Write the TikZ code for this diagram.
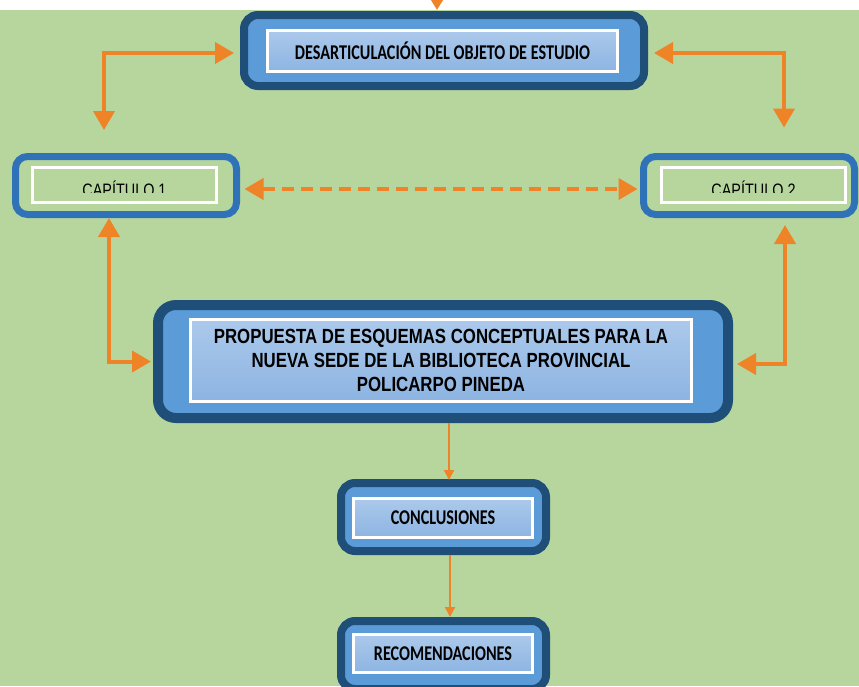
\documentclass[tikz,border=0pt]{standalone}
\usepackage{fontspec}
\setmainfont{Liberation Sans}
\newfontfamily\calib[FakeStretch=0.77]{Carlito}
\newfontfamily\arialn[FakeStretch=0.8]{Liberation Sans}
\newfontfamily\arialm[FakeStretch=0.82]{Liberation Sans}
\usetikzlibrary{arrows.meta}
\definecolor{bggreen}{HTML}{B6D69E}
\definecolor{navy}{HTML}{1F4E79}
\definecolor{midblue}{HTML}{5B9BD8}
\definecolor{ltA}{HTML}{ABC9EB}
\definecolor{ltB}{HTML}{8DB4E2}
\definecolor{capblue}{HTML}{2F72B8}
\definecolor{oran}{HTML}{EE8427}
\tikzset{
  outerbox/.style={draw=navy, line width=8pt, fill=midblue, rounded corners=14pt, inner sep=0pt, outer sep=0pt},
  innerbox/.style={draw=white, line width=3pt, top color=ltA, bottom color=ltB, inner sep=0pt, outer sep=0pt, align=center, text=black},
  capouter/.style={draw=capblue, line width=7pt, fill=bggreen, rounded corners=12pt, inner sep=0pt, outer sep=0pt},
  capinner/.style={draw=white, line width=3pt, fill=bggreen, inner sep=0pt, outer sep=0pt},
  oarr/.style={draw=oran, line width=4pt, {Triangle[length=19pt,width=21pt]}-{Triangle[length=19pt,width=21pt]}},
  thinarr/.style={draw=oran, line width=2pt, -{Triangle[length=10pt,width=10pt]}},
  toptext/.style={font=\calib\bfseries\fontsize{21}{24}\selectfont},
  captext/.style={font=\arialn\fontsize{18}{20}\selectfont, inner sep=0pt, anchor=base}
}
\begin{document}
\begin{tikzpicture}[x=1pt,y=-1pt]
\useasboundingbox (0,0) rectangle (859,686);
\fill[bggreen] (0,0) rectangle (859,686);
\fill[white] (0,0) rectangle (859,10);

% top box
\node[outerbox, minimum width=400pt, minimum height=71pt] (topo) at (444,50.5) {};
\node[innerbox, minimum width=350pt, minimum height=41pt, toptext] (topi) at (442.5,51) {DESARTICULACIÓN DEL OBJETO DE ESTUDIO};

% capitulo boxes
\node[capouter, minimum width=221pt, minimum height=58pt] (cap1o) at (126,185.5) {};
\node[capinner, minimum width=184pt, minimum height=35pt] (cap1i) at (124.5,185) {};
\node[capouter, minimum width=211pt, minimum height=58pt] (cap2o) at (749,185.5) {};
\node[capinner, minimum width=184pt, minimum height=35pt] (cap2i) at (753.5,185) {};
\begin{scope}
\clip (0,150) rectangle (859,192.5);
\node[captext] (cap1t) at (124.5,196) {CAPÍTULO 1};
\node[captext] (cap2t) at (753.5,196) {CAPÍTULO 2};
\end{scope}

% main box
\node[outerbox, line width=10pt, rounded corners=18pt, minimum width=570pt, minimum height=113pt] (maino) at (443,361.5) {};
\node[innerbox, minimum width=501pt, minimum height=82pt, font=\arialm\bfseries\fontsize{20.5}{24}\selectfont] (maini) at (441,360.5) {PROPUESTA DE ESQUEMAS CONCEPTUALES PARA LA\\NUEVA SEDE DE LA BIBLIOTECA PROVINCIAL\\POLICARPO PINEDA};

% conclusiones / recomendaciones
\node[outerbox, minimum width=205pt, minimum height=68pt] (conclo) at (443.5,517) {};
\node[innerbox, minimum width=179pt, minimum height=39pt, toptext] (concli) at (443,518) {CONCLUSIONES};
\node[outerbox, minimum width=205pt, minimum height=68pt] (recomo) at (443.5,655) {};
\node[innerbox, minimum width=179pt, minimum height=38pt, toptext] (recomi) at (443,653.5) {RECOMENDACIONES};

% arrows
\coordinate (src) at (437,-15);
\draw[draw=oran, line width=4pt, -{Triangle[length=14pt,width=16pt]}] (src) -- ([xshift=-7pt,yshift=5pt]topo.north);
\draw[oarr] ([xshift=-10pt,yshift=-2.5pt]topo.west) -| ([xshift=-22pt,yshift=26.5pt]cap1o.north);
\draw[oarr] ([xshift=10pt,yshift=-2.5pt]topo.east) -| ([xshift=35pt,yshift=29pt]cap2o.north);
\draw[oarr, dash pattern=on 12pt off 7pt] ([xshift=8pt,yshift=-3.5pt]cap1o.east) -- ([xshift=-6pt,yshift=-3.5pt]cap2o.west);
\draw[oarr] ([xshift=-17pt,yshift=-3.5pt]cap1o.south) |- ([xshift=-7pt]maino.west);
\draw[oarr] ([xshift=36pt,yshift=-10.5pt]cap2o.south) |- ([xshift=9pt,yshift=-2.5pt]maino.east);
\draw[thinarr] ([xshift=6pt,yshift=-5pt]maino.south) -- ([xshift=5.5pt,yshift=3pt]conclo.north);
\draw[thinarr] ([xshift=6.5pt,yshift=-4pt]conclo.south) -- ([xshift=6.5pt,yshift=4pt]recomo.north);
\end{tikzpicture}
\end{document}
